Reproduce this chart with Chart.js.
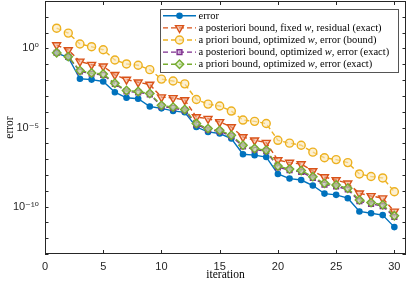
<!DOCTYPE html>
<html>
<head>
<meta charset="utf-8">
<script src="https://cdn.jsdelivr.net/npm/chart.js@4.4.0/dist/chart.umd.min.js"></script>
<style>
  html, body { margin: 0; padding: 0; background: #fff; }
</style>
</head>
<body>
<canvas id="chart" width="407" height="284"></canvas>
<script>
// Itérations (axe x)
const iterations = [1, 2, 3, 4, 5, 6, 7, 8, 9, 10, 11, 12, 13, 14, 15,
                    16, 17, 18, 19, 20, 21, 22, 23, 24, 25, 26, 27, 28, 29, 30];

// Valeurs, en exposants base 10
const errorExp = [-0.29, -0.57, -1.92, -1.97, -2.09, -2.77, -3.12, -3.18, -3.67, -3.79,
                  -3.95, -4.04, -4.97, -5.28, -5.38, -5.70, -6.69, -6.75, -6.87, -7.94,
                  -8.23, -8.32, -8.67, -9.18, -9.26, -9.47, -10.31, -10.42, -10.54, -11.30];
const postFixedExp = [0.21, -0.10, -0.82, -1.03, -1.13, -1.67, -1.97, -2.14, -2.28, -3.08,
                      -3.13, -3.26, -4.34, -4.44, -4.65, -4.97, -5.60, -5.81, -5.96, -7.06,
                      -7.22, -7.31, -7.75, -8.13, -8.32, -8.53, -9.16, -9.33, -9.47, -10.31];
const prioriBoundExp = [1.28, 0.97, 0.28, 0.11, -0.08, -0.73, -0.98, -1.06, -1.34, -1.94,
                        -2.06, -2.24, -3.23, -3.52, -3.64, -3.96, -4.53, -4.61, -4.75, -5.81,
                        -5.99, -6.12, -6.56, -6.91, -7.03, -7.22, -7.94, -8.10, -8.19, -9.06];
const postOptExp = [-0.28, -0.54, -1.45, -1.60, -1.68, -2.25, -2.72, -2.78, -2.90, -3.66,
                    -3.77, -3.92, -4.82, -5.13, -5.24, -5.55, -6.19, -6.40, -6.50, -7.52,
                    -7.70, -7.80, -8.19, -8.61, -8.72, -8.92, -9.66, -9.83, -9.97, -10.66];
const prioriExactExp = [-0.27, -0.52, -1.40, -1.55, -1.62, -2.20, -2.66, -2.72, -2.85, -3.60,
                        -3.71, -3.86, -4.75, -5.07, -5.18, -5.49, -6.12, -6.33, -6.43, -7.44,
                        -7.63, -7.72, -8.11, -8.53, -8.64, -8.84, -9.58, -9.75, -9.89, -10.58];

// Graduations
const xTicks = [0, 5, 10, 15, 20, 25, 30];
const yDecades = [-13, -12, -11, -10, -9, -8, -7, -6, -5, -4, -3, -2, -1, 0, 1, 2, 3];
const yLabelled = [-10, -5, 0];

// Légende : [avant w, w, après w]
const legendLabels = [
  ['error', '', ''],
  ['a posteriori bound, fixed ', 'w', ', residual (exact)'],
  ['a priori bound, optimized ', 'w', ', error (bound)'],
  ['a posteriori bound, optimized ', 'w', ', error (exact)'],
  ['a priori bound, optimized ', 'w', ', error (exact)']
];

const SERIF = '"Liberation Serif", "DejaVu Serif", serif';
const SANS = '"Liberation Sans", Arial, "DejaVu Sans", sans-serif';
const AXIS_COLOR = '#262626';

function toPoints(exps) {
  return exps.map((e, i) => ({ x: iterations[i], y: Math.pow(10, e) }));
}

const SUP = { '0': '\u2070', '1': '\u00b9', '2': '\u00b2', '3': '\u00b3', '4': '\u2074',
              '5': '\u2075', '6': '\u2076', '7': '\u2077', '8': '\u2078', '9': '\u2079', '-': '\u207b' };
function supText(n) {
  return String(n).split('').map(c => SUP[c]).join('');
}

const datasets = [
  { label: 'error', data: toPoints(errorExp), borderColor: '#0072BD',
    pointBackgroundColor: '#0072BD', pointBorderColor: '#0072BD',
    borderDash: [], pointStyle: 'circle', pointRadius: 2.6, pointRotation: 0, order: 5 },
  { label: 'post fixed', data: toPoints(postFixedExp), borderColor: '#D95319',
    pointBackgroundColor: 'rgba(240,170,140,0.6)', pointBorderColor: '#D95319',
    borderDash: [5, 3], pointStyle: 'triangle', pointRadius: 4.6, pointRotation: 180, order: 4 },
  { label: 'priori bound', data: toPoints(prioriBoundExp), borderColor: '#EDB120',
    pointBackgroundColor: 'rgba(250,230,180,0.6)', pointBorderColor: '#EDB120',
    borderDash: [5, 3], pointStyle: 'circle', pointRadius: 4, pointRotation: 0, order: 3 },
  { label: 'post opt', data: toPoints(postOptExp), borderColor: '#7E2F8E',
    pointBackgroundColor: 'rgba(200,160,210,0.6)', pointBorderColor: '#7E2F8E',
    borderDash: [5, 3], pointStyle: 'rect', pointRadius: 3.4, pointRotation: 0, order: 2 },
  { label: 'priori exact', data: toPoints(prioriExactExp), borderColor: '#77AC30',
    pointBackgroundColor: 'rgba(200,225,170,0.6)', pointBorderColor: '#77AC30',
    borderDash: [5, 3], pointStyle: 'rectRot', pointRadius: 4.2, pointRotation: 0, order: 1 }
].map(d => Object.assign({ borderWidth: 1.4, pointBorderWidth: 1.4, fill: false, tension: 0 }, d));

// Cadre et graduations intérieures (style MATLAB)
const boxPlugin = {
  id: 'box',
  afterDraw(chart) {
    const { ctx, chartArea: a, scales } = chart;
    ctx.save();
    ctx.strokeStyle = AXIS_COLOR;
    ctx.lineWidth = 1;
    ctx.strokeRect(a.left + 0.5, a.top + 0.5, a.right - a.left - 1, a.bottom - a.top - 1);
    ctx.beginPath();
    xTicks.forEach(v => {
      const px = Math.round(scales.x.getPixelForValue(v)) + 0.5;
      ctx.moveTo(px, a.bottom); ctx.lineTo(px, a.bottom - 4);
      ctx.moveTo(px, a.top); ctx.lineTo(px, a.top + 4);
    });
    yDecades.forEach(d => {
      const py = Math.round(scales.y.getPixelForValue(Math.pow(10, d))) + 0.5;
      ctx.moveTo(a.left, py); ctx.lineTo(a.left + 3.5, py);
      ctx.moveTo(a.right, py); ctx.lineTo(a.right - 3.5, py);
    });
    ctx.stroke();
    ctx.restore();
  }
};

// Légende dessinée à la main : trait + marqueur + texte
const legendPlugin = {
  id: 'customLegend',
  afterDraw(chart) {
    const { ctx } = chart;
    const left = 160, top = 9, right = 398, bottom = 72;
    ctx.save();
    ctx.fillStyle = '#fff';
    ctx.fillRect(left, top, right - left, bottom - top);
    ctx.strokeStyle = '#555';
    ctx.lineWidth = 1;
    ctx.strokeRect(left + 0.5, top + 0.5, right - left, bottom - top);
    chart.data.datasets.forEach((ds, row) => {
      const y = 15.8 + row * 12.1;
      ctx.strokeStyle = ds.borderColor;
      ctx.lineWidth = ds.borderWidth;
      ctx.setLineDash(ds.borderDash);
      ctx.beginPath();
      ctx.moveTo(163, y); ctx.lineTo(196, y);
      ctx.stroke();
      ctx.setLineDash([]);
      ctx.fillStyle = ds.pointBackgroundColor;
      ctx.strokeStyle = ds.pointBorderColor;
      ctx.lineWidth = ds.pointBorderWidth;
      Chart.helpers.drawPoint(ctx, {
        pointStyle: ds.pointStyle, rotation: ds.pointRotation,
        radius: ds.pointRadius, borderWidth: ds.pointBorderWidth
      }, 179.5, y);
      // texte, avec w en italique
      const [pre, w, post] = legendLabels[row];
      let x = 198.5;
      ctx.fillStyle = '#000';
      ctx.textBaseline = 'middle';
      ctx.font = '10.5px ' + SERIF;
      ctx.fillText(pre, x, y + 0.5);
      x += ctx.measureText(pre).width;
      if (w) {
        ctx.font = 'italic 10.5px ' + SERIF;
        ctx.fillText(w, x, y + 0.5);
        x += ctx.measureText(w).width;
        ctx.font = '10.5px ' + SERIF;
        ctx.fillText(post, x, y + 0.5);
      }
    });
    ctx.restore();
  }
};

const chart = new Chart(document.getElementById('chart'), {
  type: 'line',
  data: { datasets },
  options: {
    responsive: false,
    animation: false,
    devicePixelRatio: 1,
    layout: { autoPadding: false, padding: { left: 0, right: 1, top: 1, bottom: 0 } },
    plugins: { legend: { display: false }, tooltip: { enabled: false } },
    scales: {
      x: {
        type: 'linear', min: 0, max: 31,
        afterBuildTicks: s => { s.ticks = xTicks.map(v => ({ value: v })); },
        afterFit: s => { s.height = 30; s.paddingLeft = 0; s.paddingRight = 0; },
        grid: { display: false, drawTicks: false },
        border: { display: false },
        ticks: { color: AXIS_COLOR, font: { family: SANS, size: 11 }, padding: 6, maxRotation: 0 },
        title: { display: true, text: 'iteration', color: '#000',
                 font: { family: SERIF, size: 11.5 }, padding: { top: 0, bottom: 2 } }
      },
      y: {
        type: 'logarithmic', min: 1e-13, max: 1e3,
        afterBuildTicks: s => { s.ticks = yDecades.map(d => ({ value: Math.pow(10, d) })); },
        afterFit: s => { s.width = 45; s.paddingTop = 0; s.paddingBottom = 0; },
        grid: { display: false, drawTicks: false },
        border: { display: false },
        ticks: {
          color: AXIS_COLOR, font: { family: SANS, size: 11 }, padding: 6, autoSkip: false,
          callback: v => {
            const d = Math.round(Math.log10(v));
            return yLabelled.includes(d) ? '10' + supText(d) : '';
          }
        },
        title: { display: true, text: 'error', color: '#000',
                 font: { family: SERIF, size: 11.5 }, padding: { top: 3, bottom: 0 } }
      }
    }
  },
  plugins: [boxPlugin, legendPlugin]
});
</script>
</body>
</html>
